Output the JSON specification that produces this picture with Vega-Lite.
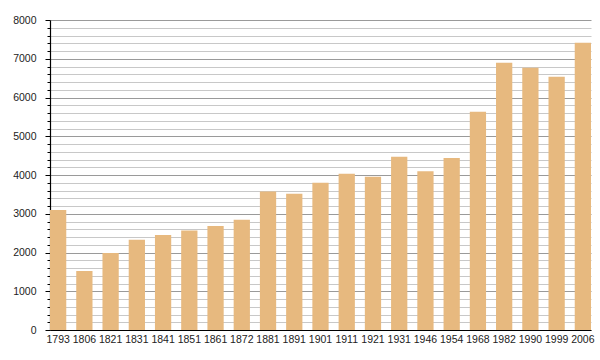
{
  "$schema": "https://vega.github.io/schema/vega-lite/v6.json",
  "autosize": {"type": "none"},
  "padding": {"left": 50, "top": 20, "right": 9, "bottom": 30},
  "width": 541,
  "height": 310,
  "background": "white",
  "data": {"values": [
    {"year": "1793", "pop": 3100},
    {"year": "1806", "pop": 1525},
    {"year": "1821", "pop": 1985},
    {"year": "1831", "pop": 2330},
    {"year": "1841", "pop": 2450},
    {"year": "1851", "pop": 2565},
    {"year": "1861", "pop": 2687},
    {"year": "1872", "pop": 2842},
    {"year": "1881", "pop": 3574},
    {"year": "1891", "pop": 3514},
    {"year": "1901", "pop": 3798},
    {"year": "1911", "pop": 4031},
    {"year": "1921", "pop": 3953},
    {"year": "1931", "pop": 4470},
    {"year": "1946", "pop": 4100},
    {"year": "1954", "pop": 4440},
    {"year": "1968", "pop": 5633},
    {"year": "1982", "pop": 6899},
    {"year": "1990", "pop": 6770},
    {"year": "1999", "pop": 6537},
    {"year": "2006", "pop": 7416}
  ]},
  "config": {
    "view": {"stroke": null},
    "axis": {"labelFont": "Liberation Sans", "labelFontSize": 10.5, "labelColor": "#222", "domainColor": "#000", "tickColor": "#000"}
  },
  "mark": {"type": "bar", "color": "#e7b97f"},
  "encoding": {
    "x": {
      "field": "year", "type": "ordinal", "sort": null,
      "scale": {"paddingInner": 0.38, "paddingOuter": 0},
      "axis": {"title": null, "labelAngle": 0, "ticks": false, "labelPadding": 4, "domainWidth": 1.2, "grid": false}
    },
    "y": {
      "field": "pop", "type": "quantitative",
      "scale": {"domain": [0, 8000], "nice": false},
      "axis": {
        "title": null,
        "values": [0,200,400,600,800,1000,1200,1400,1600,1800,2000,2200,2400,2600,2800,3000,3200,3400,3600,3800,4000,4200,4400,4600,4800,5000,5200,5400,5600,5800,6000,6200,6400,6600,6800,7000,7200,7400,7600,7800,8000],
        "labelExpr": "datum.value % 1000 === 0 ? datum.label : ''",
        "format": "d",
        "grid": true,
        "gridColor": {"condition": {"test": "datum.value % 1000 === 0", "value": "#9a9a9a"}, "value": "#c8c8c8"},
        "gridWidth": 1,
        "tickSize": {"condition": {"test": "datum.value % 1000 === 0", "value": 5}, "value": 3},
        "labelPadding": 9,
        "domainWidth": 1.2
      }
    }
  }
}
